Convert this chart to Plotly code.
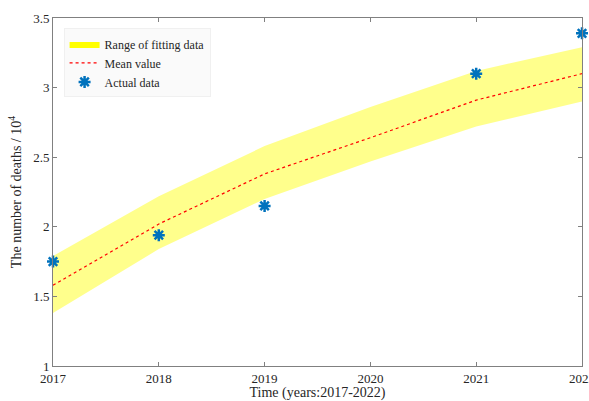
import plotly.graph_objects as go

years = [2017, 2018, 2019, 2020, 2021, 2022]
upper = [1.79, 2.22, 2.58, 2.86, 3.12, 3.29]
lower = [1.38, 1.84, 2.20, 2.47, 2.72, 2.90]
mean_vals = [1.58, 2.02, 2.38, 2.64, 2.91, 3.10]
actual_years = [2017, 2018, 2019, 2021, 2022]
actual_vals = [1.75, 1.94, 2.15, 3.10, 3.39]

font_family = "Liberation Serif, Times New Roman, serif"

fig = go.Figure()
fig.add_trace(go.Scatter(
    x=years + years[::-1], y=upper + lower[::-1],
    fill="toself", fillcolor="rgba(255,255,0,0.45)",
    line=dict(width=0), mode="lines", showlegend=False, hoverinfo="skip"))
fig.add_trace(go.Scatter(
    x=[None, None], y=[None, None], fill="toself", fillcolor="#FFFF00",
    line=dict(width=0), mode="lines", name="Range of fitting data"))
fig.add_trace(go.Scatter(
    x=years, y=mean_vals, mode="lines", name="Mean value",
    line=dict(color="#FF0000", width=1.2, dash="dot")))
fig.add_trace(go.Scatter(
    x=actual_years, y=actual_vals, mode="markers", name="Actual data",
    marker=dict(symbol="asterisk-open", size=10, color="#0072BD",
                line=dict(color="#0072BD", width=2.5)), cliponaxis=False))

axis_common = dict(
    showgrid=False, zeroline=False, showline=True, linecolor="#808080",
    linewidth=1, mirror="ticks", ticks="inside", ticklen=4, tickcolor="#808080",
    ticklabeloverflow="allow",
    tickfont=dict(family=font_family, size=13, color="#262626"))

fig.update_xaxes(range=[2017, 2022], tickvals=years,
                 ticktext=[str(y) for y in years],
                 title=dict(text="Time (years:2017-2022)", standoff=1,
                            font=dict(family=font_family, size=14, color="#262626")),
                 **axis_common)
fig.update_yaxes(range=[1, 3.5], tickvals=[1, 1.5, 2, 2.5, 3, 3.5],
                 ticktext=["1", "1.5", "2", "2.5", "3", "3.5"],
                 title=dict(text="The number of deaths / 10<sup>4</sup>", standoff=8,
                            font=dict(family=font_family, size=14, color="#262626")),
                 **axis_common)

fig.update_layout(
    width=589, height=401,
    margin=dict(l=53, r=7, t=18, b=35, autoexpand=False),
    plot_bgcolor="white", paper_bgcolor="white",
    font=dict(family=font_family, color="#262626"),
    legend=dict(x=0.02, y=0.97, xanchor="left", yanchor="top",
                bgcolor="rgba(250,250,250,0.9)", bordercolor="#F0F0F0", borderwidth=1,
                font=dict(family=font_family, size=12, color="#262626"),
                tracegroupgap=0, itemwidth=30),
)

fig.write_html("out.html")
